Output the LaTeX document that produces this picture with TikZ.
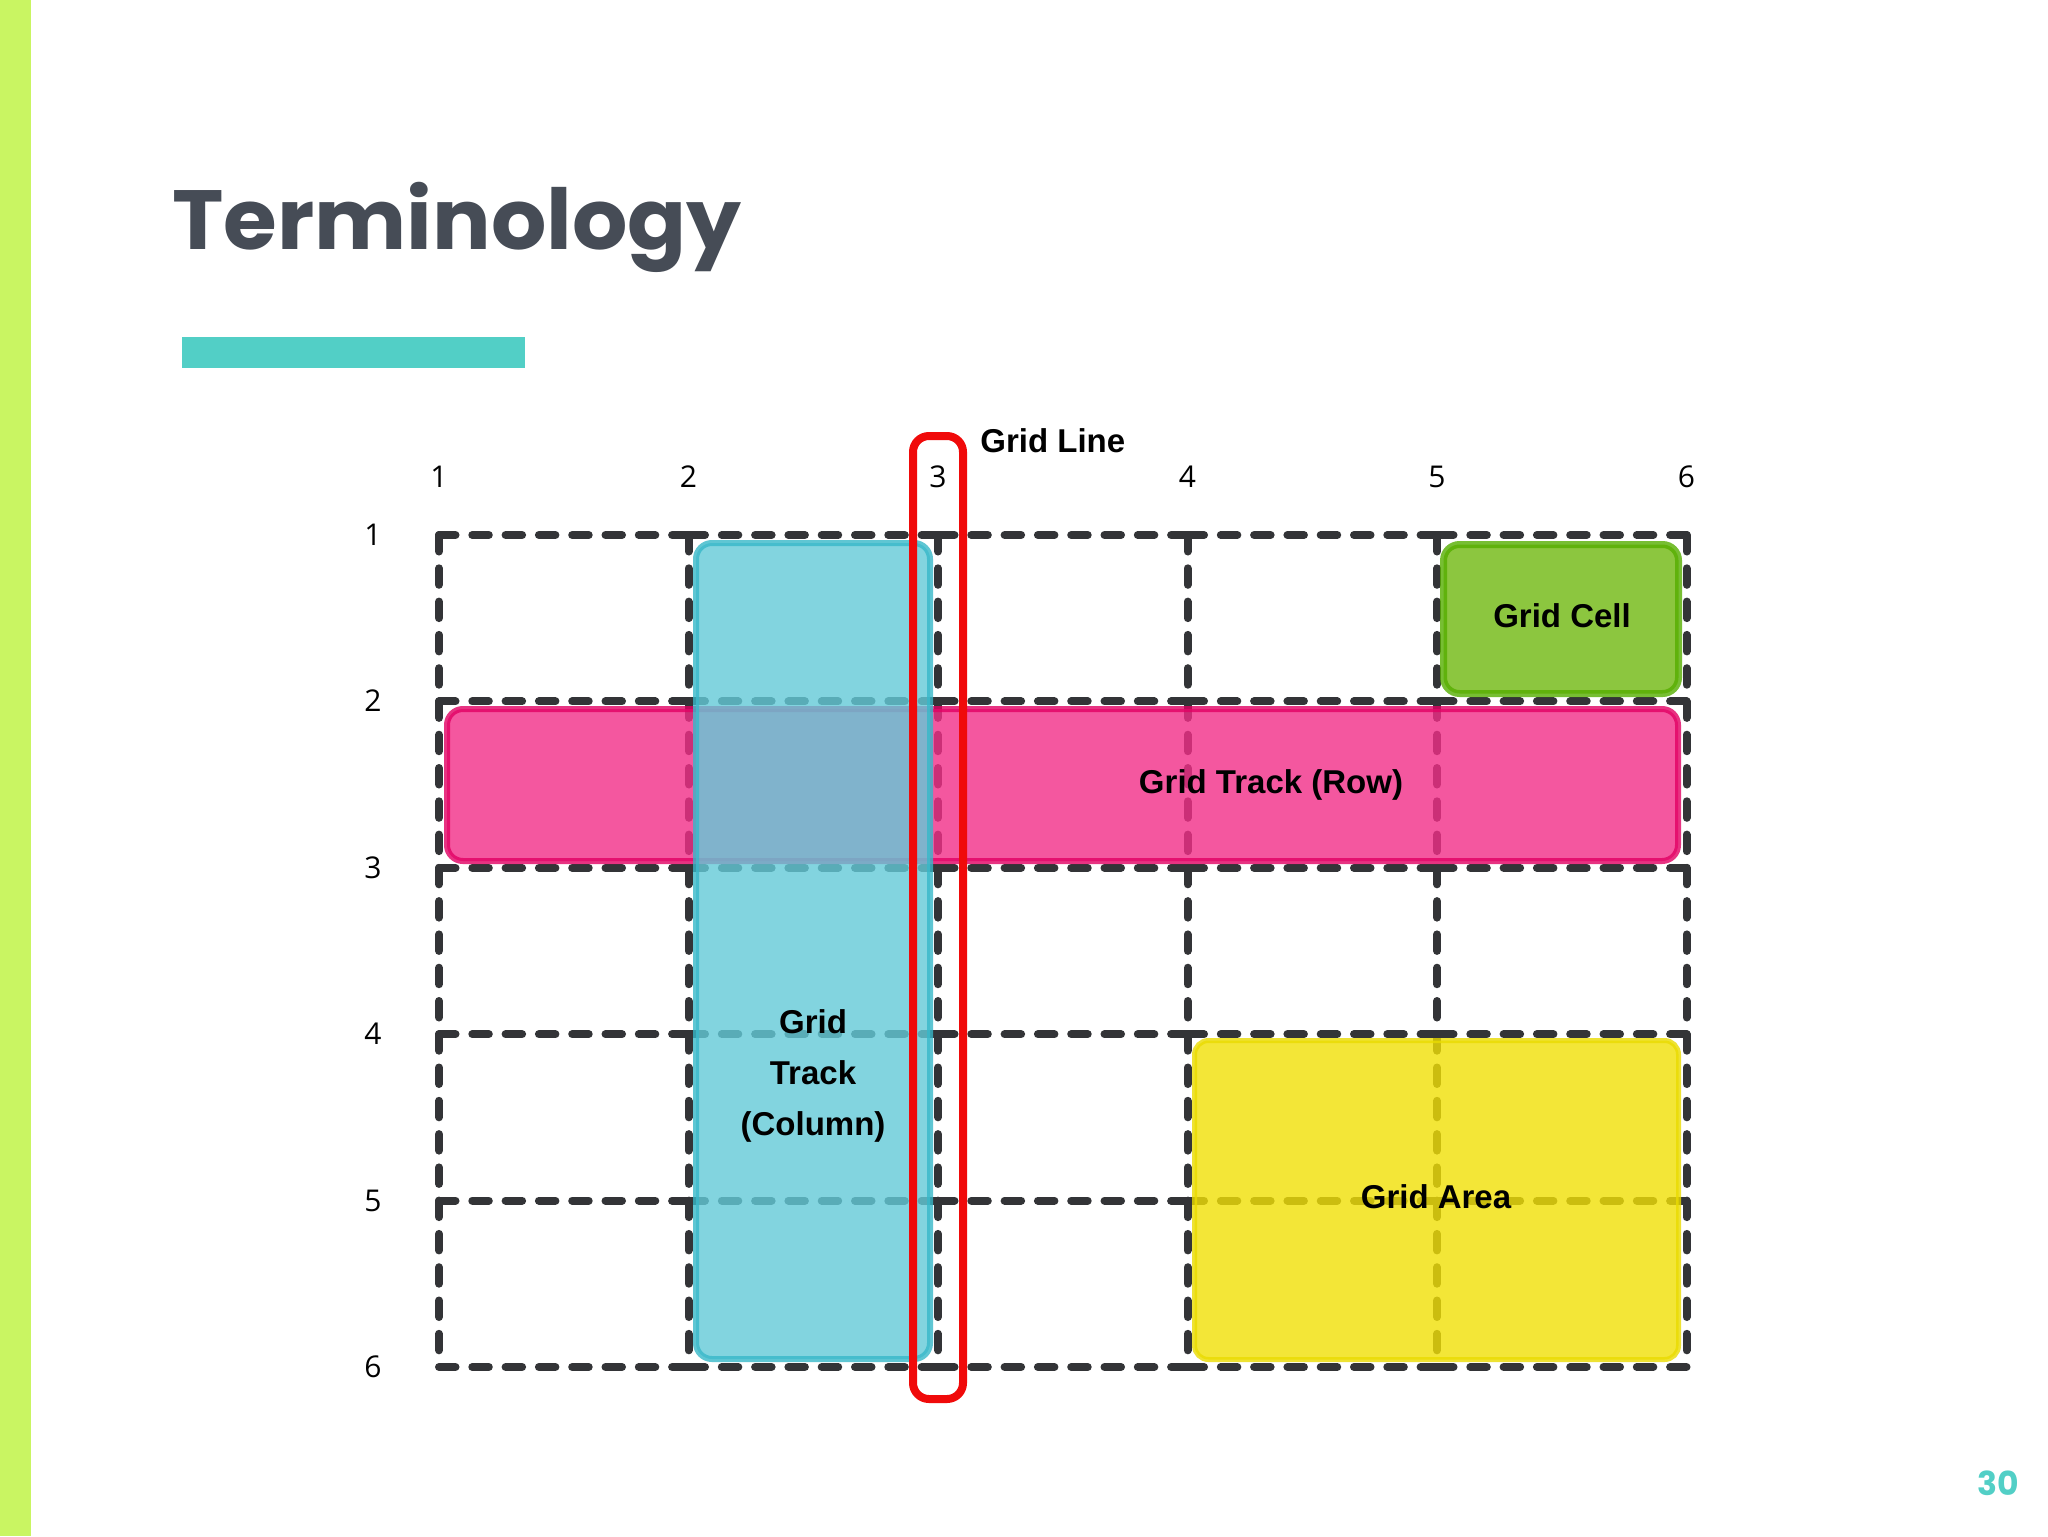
\documentclass[tikz,border=0pt]{standalone}
\usepackage{fontspec}
\newfontfamily\lblfont{Liberation Sans}
\newfontfamily\numfont{Open Sans}
\newfontfamily\ttlfont{Poppins}
\definecolor{limebar}{RGB}{201,245,98}
\definecolor{titlegray}{RGB}{70,76,86}
\definecolor{tealbar}{RGB}{82,207,198}
\definecolor{gridgray}{RGB}{51,52,55}
\definecolor{bluefill}{RGB}{99,202,216}
\definecolor{blueline}{RGB}{55,184,201}
\definecolor{pinkfill}{RGB}{242,46,136}
\definecolor{pinkline}{RGB}{226,0,99}
\definecolor{yellowfill}{RGB}{241,224,6}
\definecolor{yellowline}{RGB}{234,219,0}
\definecolor{greenfill}{RGB}{112,184,15}
\definecolor{greenline}{RGB}{86,174,0}
\definecolor{redline}{RGB}{240,10,10}
\begin{document}
\begin{tikzpicture}[x=0.5pt,y=-0.5pt,
  gridline/.style={line width=4pt, draw=gridgray, line cap=round, dash pattern=on 8.25pt off 8.4pt},
  areabox/.style={opacity=0.8, rounded corners=8pt},
  lbl/.style={inner sep=0pt, font=\lblfont\bfseries\fontsize{16.5}{20}\selectfont, text=black},
  num/.style={inner sep=0pt, font=\numfont\fontsize{15}{18}\selectfont, text=black, anchor=base}]
\useasboundingbox (0,0) rectangle (2048,1536);
\fill[white] (0,0) rectangle (2048,1536);
\fill[limebar] (0,0) rectangle (31,1536);
\node[anchor=base west, inner sep=0pt, font=\ttlfont\bfseries\fontsize{42}{50}\selectfont, text=titlegray] (title) at (172,249) {\scalebox{1.036}[1]{Terminology}};
\fill[tealbar] (182,337) rectangle (525,368);
\node[anchor=base east, inner sep=0pt, font=\ttlfont\bfseries\fontsize{16.5}{20}\selectfont, text=tealbar] (pagenum) at (2019,1495) {30};
% grid cells
\foreach \i in {0,...,4}{
  \foreach \j in {0,...,4}{
    \pgfmathsetmacro\xa{439+249.5*\i}
    \pgfmathsetmacro\xb{439+249.5*(\i+1)}
    \pgfmathsetmacro\ya{535+166.4*\j}
    \pgfmathsetmacro\yb{535+166.4*(\j+1)}
    \draw[gridline] (\xa,\ya) -- (\xb,\ya);
    \draw[gridline] (\xa,\ya) -- (\xa,\yb);
  }
}
\foreach \j in {0,...,4}{
  \pgfmathsetmacro\ya{535+166.4*\j}
  \pgfmathsetmacro\yb{535+166.4*(\j+1)}
  \draw[gridline] (1686.5,\ya) -- (1686.5,\yb);
}
\foreach \i in {0,...,4}{
  \pgfmathsetmacro\xa{439+249.5*\i}
  \pgfmathsetmacro\xb{439+249.5*(\i+1)}
  \draw[gridline] (\xa,1367) -- (\xb,1367);
}
% line numbers
\foreach \i in {1,...,6}{
  \pgfmathsetmacro\xx{439+249.5*(\i-1)}
  \pgfmathsetmacro\yy{535+166.4*(\i-1)+10.5}
  \node[num] (col\i) at (\xx,487) {\i};
  \node[num] (row\i) at (373,\yy) {\i};
}
% areas
\draw[areabox, fill=pinkfill, draw=pinkline, line width=3pt] (447,709) rectangle (1678,861);
\draw[areabox, fill=bluefill, draw=blueline, line width=3pt] (696,543) rectangle (930,1359);
\draw[areabox, fill=yellowfill, draw=yellowline, line width=2.5pt, rounded corners=7pt] (1194.5,1040.5) rectangle (1678.5,1359.5);
\draw[areabox, fill=greenfill, draw=greenline, line width=3.5pt] (1443.5,544.5) rectangle (1678.5,693.5);
\draw[draw=redline, line width=4pt, rounded corners=8pt] (913,436) rectangle (963,1399);
% labels
\node[lbl, anchor=base west] (gridline) at (980,452) {Grid Line};
\node[lbl, anchor=base] (gridcell) at (1562,627) {Grid Cell};
\node[lbl, anchor=base] (gridrow) at (1271,793) {Grid Track (Row)};
\node[lbl, anchor=base] (gridcolA) at (813,1033) {Grid};
\node[lbl, anchor=base] (gridcolB) at (813,1084) {Track};
\node[lbl, anchor=base] (gridcolC) at (813,1135) {(Column)};
\node[lbl, anchor=base] (gridarea) at (1436,1208) {Grid Area};
\end{tikzpicture}
\end{document}
